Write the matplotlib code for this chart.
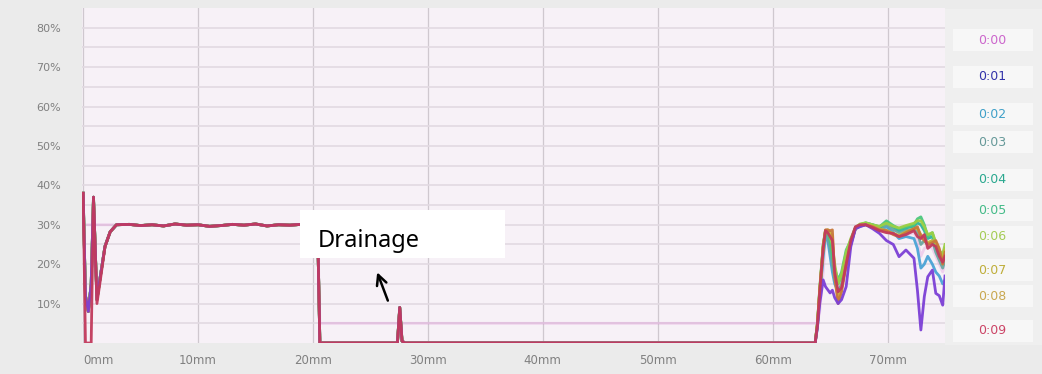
import matplotlib.pyplot as plt
from matplotlib.patches import Rectangle

labels = ["0:00", "0:01", "0:02", "0:03", "0:04", "0:05", "0:06", "0:07", "0:08", "0:09"]
line_colors = ["#dc86d4", "#7c3fd6", "#4aa3d6", "#6aa8a0", "#2fb49c",
               "#4cc77e", "#9ccf45", "#c9b43a", "#c8783a", "#c23a5c"]
label_colors = ["#cc66cc", "#3333aa", "#3fa0c8", "#669999", "#2aa88f",
                "#44bb88", "#a5cc55", "#bfae3a", "#c9a850", "#cc4466"]

# start of the scan (0 - 3 mm)
start_mm = [0.0, 0.2, 0.45, 0.7, 0.9, 1.2, 1.5, 1.9, 2.35, 2.9]
start_red = [38, 0, 0, 0, 37, 10, 16, 24.4, 28.2, 30]
start_pink = [30, 30, 30, 30, 30, 30, 30, 30, 30, 30]
start_other = [38, 12, 8, 15, 37, 11, 17, 24.5, 28.2, 30]

# flat section
flat_mm = [4, 5, 6, 7, 8, 9, 10, 11, 12, 13, 14, 15, 16, 17, 18, 19, 20, 20.4]
flat_pct = [30.1, 29.8, 30.0, 29.7, 30.2, 29.9, 30.0, 29.6, 29.8, 30.1,
            29.9, 30.2, 29.7, 30.0, 29.9, 30.1, 29.8, 30.0]

# drained section with the small peak near 28 mm
drop_mm = [20.6, 27.35, 27.55, 27.75, 28.0, 63.5]
drop_pct = [0, 0, 9, 0.5, 0, 0]
drop_pink = [5, 5, 5, 5, 5, 5]

# end of the scan (64 - 75 mm)
tail_mm = [63.7, 63.9, 64.1, 64.4, 64.6, 64.8, 65.0, 65.2, 65.4, 65.7, 66.0,
           66.4, 66.8, 67.2, 67.6, 68.1, 68.7, 69.3, 69.9, 70.5, 71.0, 71.6,
           72.3, 72.6, 72.9, 73.2, 73.5, 73.9, 74.2, 74.5, 74.8, 75.0]
tail_00 = [5, 5, 8, 18, 26, 27, 25, 22, 17, 14, 15, 21, 26, 29, 29.8, 30,
           29.4, 28.6, 28.3, 27.6, 26.8, 27.3, 28, 26, 22, 24, 24.5, 24, 22, 20, 18, 20]
tail_01 = [0, 4, 10, 16, 14.3, 13.5, 12.7, 13.4, 11.5, 10, 11, 14.3, 24.4, 29, 29.5, 30,
           29, 27.8, 26, 25, 21.9, 23.6, 21.5, 13.4, 3.3, 11.8, 16.8, 18.5, 12.6, 12, 9.6, 17]
tail_02 = [0, 4, 12, 22, 27, 26, 22, 18, 15, 13, 14, 20, 25, 29, 29.6, 30,
           29.5, 28.5, 29.5, 28, 26.5, 27, 26.5, 24, 19, 20, 22, 20, 18, 17, 15, 16]
tail_03 = [0, 4.5, 12, 23, 27.5, 27, 24, 20, 16, 13, 15, 21, 25.5, 29, 29.7, 30.2,
           29.6, 29, 30, 28.8, 28, 28.6, 28.8, 28, 25, 26, 25, 26, 23, 21, 19, 21]
tail_04 = [0, 5, 13, 24.5, 28.2, 28.4, 26.5, 23, 18, 15, 17, 22.5, 26, 29.2, 30, 30.4,
           30, 29.3, 30.6, 29.5, 28.6, 29.2, 29.6, 30.5, 30, 28.5, 26.5, 27, 24.5, 22.5, 21, 23]
tail_05 = [0, 5, 14, 25, 28.5, 28.6, 26, 22, 19, 16, 18, 23.6, 26, 29, 30, 30.5,
           30, 29.5, 31, 29.8, 29, 29.5, 30, 31.5, 32, 30, 27, 28, 25, 23, 22, 24]
tail_06 = [0, 5, 13.5, 24.8, 28.6, 28.6, 27, 25, 20, 15, 17.5, 23, 26.5, 29.3, 30.2, 30.5,
           30, 29.6, 30.4, 29.6, 29.2, 29.8, 30.4, 31, 31, 29.5, 27.5, 28, 25.5, 23.5, 22.5, 25]
tail_07 = [0, 5, 13.5, 24.6, 28.6, 28.7, 28, 27, 18, 11, 14, 20.5, 25.5, 29.2, 29.9, 30.1,
           29.6, 28.9, 28.6, 27.8, 27.3, 28.2, 29, 29, 27.5, 26.5, 25.5, 26, 25.5, 23.5, 21, 23.5]
tail_08 = [0, 5, 13.5, 24.4, 28.7, 28.7, 28.5, 28.7, 16.8, 10, 13, 19.9, 25, 29, 29.8, 30,
           29.5, 28.7, 28.5, 27.5, 27, 28, 29, 29.5, 27, 26, 25, 25.5, 26, 24, 20, 23]
tail_09 = [0, 4.5, 13, 24, 28.5, 28, 27, 26, 18, 13, 14, 20, 26, 29.5, 30, 30,
           29.3, 28.5, 28, 27.8, 27, 27.5, 28.5, 27, 26.5, 27.5, 24, 25, 24.5, 22, 20.5, 22]

tails = [tail_00, tail_01, tail_02, tail_03, tail_04,
         tail_05, tail_06, tail_07, tail_08, tail_09]

x_ticks = [0, 10, 20, 30, 40, 50, 60, 70]
y_ticks = [10, 20, 30, 40, 50, 60, 70, 80]

fig = plt.figure(figsize=(10.42, 3.74), dpi=100, facecolor="#ebebeb")
ax = fig.add_axes([82 / 1042, 31 / 374, 863 / 1042, 335 / 374])
ax.set_facecolor("#f7f1f7")

# legend panel on the right, one light box per label
fig.patches.append(Rectangle((945 / 1042, 29 / 374), 97 / 1042, 336 / 374,
                             transform=fig.transFigure, facecolor="#efefef",
                             edgecolor="none", zorder=0))
label_y = [40, 77, 114, 142, 180, 210, 237, 270, 296, 331]
for py in label_y:
    fig.patches.append(Rectangle((953 / 1042, 1 - (py + 11) / 374), 80 / 1042, 22 / 374,
                                 transform=fig.transFigure, facecolor="#f7f7f7",
                                 edgecolor="none", zorder=0))

x_all = start_mm + flat_mm + drop_mm + tail_mm
order = [0, 2, 3, 4, 5, 6, 7, 8, 1, 9]
for i in order:
    if i == 9:
        start = start_red
    elif i == 0:
        start = start_pink
    else:
        start = start_other
    drop = drop_pink if i == 0 else drop_pct
    y = start + flat_pct + drop + tails[i]
    alpha = 0.3 if i == 0 else 0.95
    ax.plot(x_all, y, color=line_colors[i], lw=2, alpha=alpha, zorder=2 + order.index(i))

ax.set_xlim(-0.1, 75)
ax.set_ylim(0, 85)
ax.set_yticks(y_ticks)
ax.set_yticklabels([f"{v}%" for v in y_ticks])
ax.set_yticks(list(range(5, 85, 10)), minor=True)
ax.set_xticks(x_ticks)
ax.set_xticklabels([f"{v}mm" for v in x_ticks])
ax.xaxis.get_majorticklabels()[0].set_horizontalalignment("left")
ax.tick_params(axis="both", which="both", length=0, labelcolor="#808080")
ax.tick_params(axis="x", pad=8, labelsize=8.5)
ax.tick_params(axis="y", pad=15, labelsize=8)
ax.grid(axis="y", which="both", color="#e2d9e2", lw=1.2)
ax.grid(axis="x", which="major", color="#cfc8cf", lw=0.9)
for s in ax.spines.values():
    s.set_visible(False)

for lab, c, py in zip(labels, label_colors, label_y):
    fig.text(992 / 1042, 1 - py / 374, lab, color=c, fontsize=9,
             ha="center", va="center")

# annotation
box = Rectangle((18.9, 21.6), 17.8, 12.2, facecolor="white", edgecolor="none", zorder=20)
ax.add_patch(box)
t = ax.text(20.4, 24.4, "Drainage", fontsize=17, family="Noto Sans",
            color="black", zorder=21)
t.set_clip_path(box)
ax.annotate("", xy=(25.5, 18.6), xytext=(26.6, 10.1),
            arrowprops=dict(arrowstyle="->", color="black", lw=1.8,
                            mutation_scale=18), zorder=21)

fig.savefig("out.png", dpi=100, facecolor=fig.get_facecolor())
